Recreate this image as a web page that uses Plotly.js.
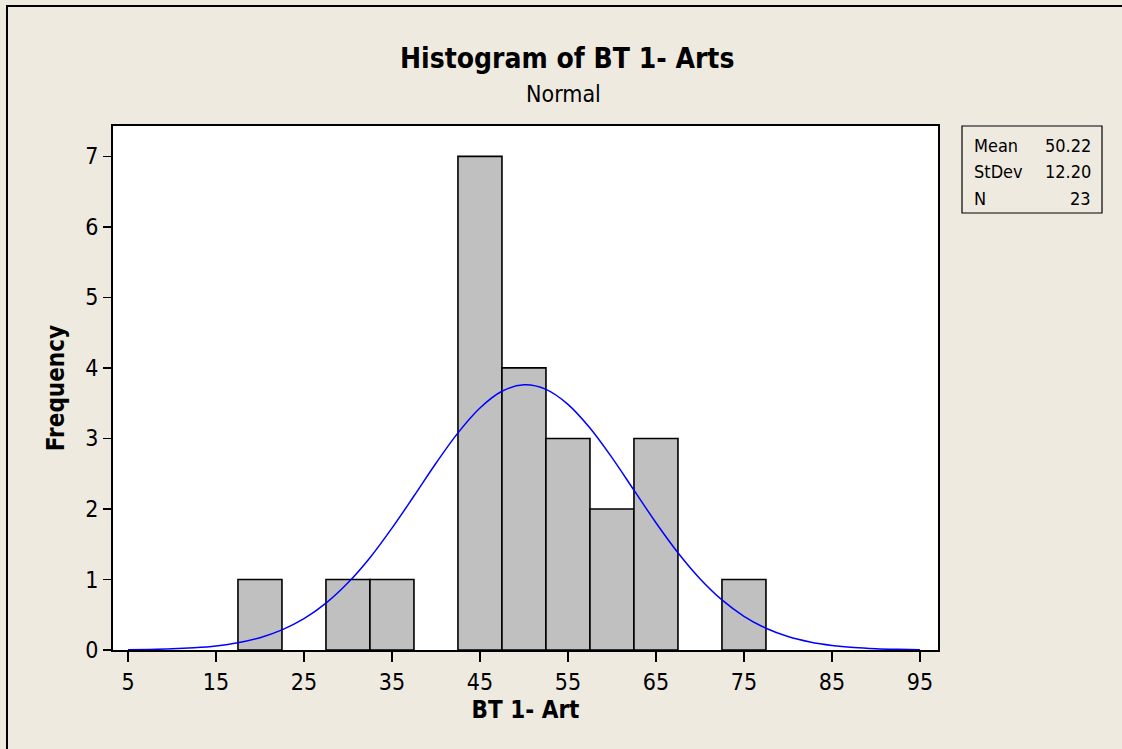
<!DOCTYPE html>
<html><head><meta charset="utf-8">
<script src="https://cdn.plot.ly/plotly-3.0.1.min.js"></script>
<style>html,body{margin:0;padding:0;background:#EEEAE0;}#chart{width:1122px;height:749px;}</style>
</head><body><div id="chart"></div>
<script>
// Histogram bins (centers) and frequencies
const binCenters = [20, 30, 35, 45, 50, 55, 60, 65, 75];
const frequencies = [1, 1, 1, 7, 4, 3, 2, 3, 1];
// Fitted normal curve
const curveX = [5, 7.5, 10, 12.5, 15, 17.5, 20, 22.5, 25, 27.5, 30, 32.5, 35, 37.5, 40, 42.5, 45, 47.5, 50, 52.5, 55, 57.5, 60, 62.5, 65, 67.5, 70, 72.5, 75, 77.5, 80, 82.5, 85, 87.5, 90, 92.5, 95];
const curveY = [0.004, 0.008, 0.016, 0.032, 0.058, 0.103, 0.175, 0.285, 0.444, 0.664, 0.953, 1.309, 1.728, 2.183, 2.648, 3.079, 3.432, 3.669, 3.760, 3.696, 3.483, 3.147, 2.727, 2.266, 1.805, 1.379, 1.011, 0.710, 0.478, 0.308, 0.191, 0.114, 0.065, 0.035, 0.018, 0.009, 0.004];
const xTicks = [5, 15, 25, 35, 45, 55, 65, 75, 85, 95];
const yTicks = [0, 1, 2, 3, 4, 5, 6, 7];
const statLabels = ["Mean", "StDev", "N"];
const statValues = ["50.22", "12.20", "23"];

const FONT = "Tahoma, 'DejaVu Sans Condensed', 'DejaVu Sans', sans-serif";
const L = 113, R = 938, T = 126, B = 650;
const px = x => (x - L) / (R - L);
const py = y => (B - y) / (B - T);

const traces = [
  {type: 'bar', x: binCenters, y: frequencies, width: 5,
   marker: {color: '#C0C0C0', line: {color: '#000000', width: 1.6}}, hoverinfo: 'x+y'},
  {type: 'scatter', mode: 'lines', x: curveX, y: curveY,
   line: {color: '#0000FF', width: 1.5, shape: 'spline'}, hoverinfo: 'skip'}
];

const annotations = [
  {text: '<b>Histogram of BT 1- Arts</b>', xref: 'paper', yref: 'paper', x: px(567), y: py(59),
   showarrow: false, font: {family: FONT, size: 28, color: '#000'}, xanchor: 'center', yanchor: 'middle'},
  {text: 'Normal', xref: 'paper', yref: 'paper', x: px(563), y: py(94),
   showarrow: false, font: {family: FONT, size: 23, color: '#000'}, xanchor: 'center', yanchor: 'middle'}
];
const rowY = [145, 171, 198];
statLabels.forEach((s, i) => {
  annotations.push({text: s, xref: 'paper', yref: 'paper', x: px(972), y: py(rowY[i]), showarrow: false,
    xanchor: 'left', yanchor: 'middle', font: {family: FONT, size: 18, color: '#000'}});
  annotations.push({text: statValues[i], xref: 'paper', yref: 'paper', x: px(1093), y: py(rowY[i]), showarrow: false,
    xanchor: 'right', yanchor: 'middle', font: {family: FONT, size: 18, color: '#000'}});
});

const shapes = [
  {type: 'rect', xref: 'paper', yref: 'paper', x0: px(962), x1: px(1102), y0: py(126), y1: py(213),
   line: {color: '#000', width: 1.2}, fillcolor: 'rgba(0,0,0,0)'},
  {type: 'line', xref: 'paper', yref: 'paper', x0: px(7), x1: px(7), y0: py(6), y1: py(760),
   line: {color: '#000', width: 2}},
  {type: 'line', xref: 'paper', yref: 'paper', x0: px(6), x1: px(1130), y0: py(6), y1: py(6),
   line: {color: '#000', width: 2}}
];

const layout = {
  width: 1122, height: 749,
  margin: {l: L, r: 1122 - R, t: T, b: 749 - B, pad: 0},
  paper_bgcolor: '#EEEAE0', plot_bgcolor: '#FFFFFF',
  showlegend: false, bargap: 0,
  font: {family: FONT, color: '#000'},
  xaxis: {range: [3.3, 97.05], tickvals: xTicks, ticktext: xTicks.map(String),
    ticks: 'outside', ticklen: 10, tickwidth: 1.5, tickcolor: '#000',
    showline: true, mirror: true, linecolor: '#000', linewidth: 2, showgrid: false, zeroline: false,
    tickfont: {family: FONT, size: 23, color: '#000'},
    title: {text: '<b>BT 1- Art</b>', font: {family: FONT, size: 24, color: '#000'}, standoff: 8}},
  yaxis: {range: [0, 7.43], tickvals: yTicks, ticktext: yTicks.map(String),
    ticks: 'outside', ticklen: 8, tickwidth: 1.5, tickcolor: '#000',
    showline: true, mirror: true, linecolor: '#000', linewidth: 2, showgrid: false, zeroline: false,
    tickfont: {family: FONT, size: 23, color: '#000'},
    title: {text: '<b>Frequency</b>', font: {family: FONT, size: 24, color: '#000'}, standoff: 14}},
  annotations: annotations,
  shapes: shapes
};

Plotly.newPlot('chart', traces, layout, {displayModeBar: false, staticPlot: true});
</script>
</body></html>
